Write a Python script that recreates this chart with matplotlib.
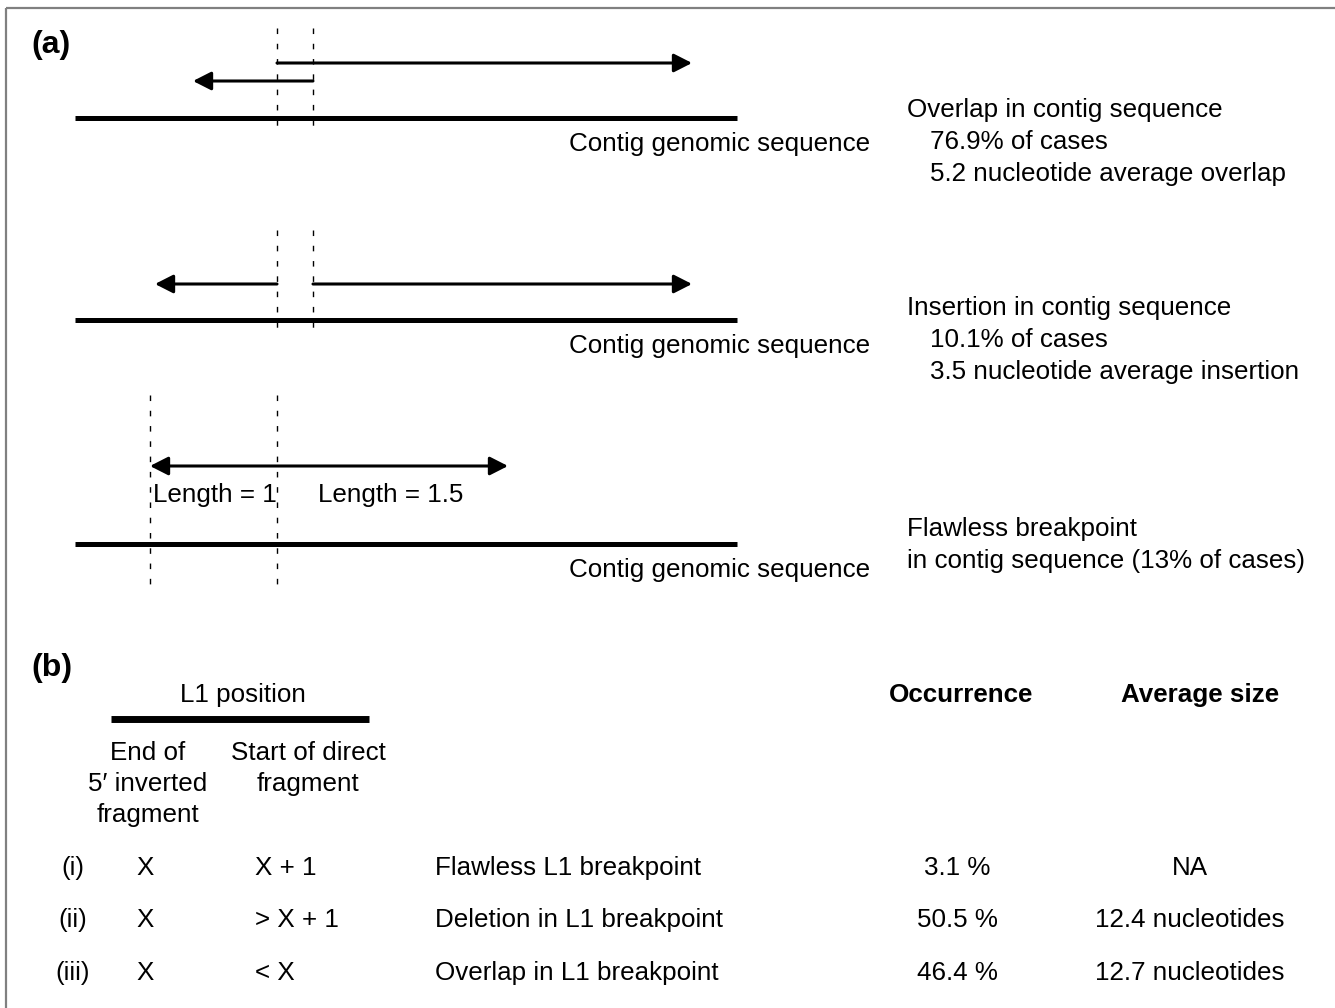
import matplotlib
matplotlib.use("Agg")
import matplotlib.pyplot as plt

plt.rcParams['font.family'] = ['Liberation Sans', 'DejaVu Sans']

# ---- panel (a) texts ----
contig_label = "Contig genomic sequence"
case_titles = ["Overlap in contig sequence",
               "Insertion in contig sequence",
               "Flawless breakpoint"]
case_lines = [["76.9% of cases", "5.2 nucleotide average overlap"],
              ["10.1% of cases", "3.5 nucleotide average insertion"],
              ["in contig sequence (13% of cases)"]]
length_labels = ["Length = 1", "Length = 1.5"]

# ---- panel (b) table ----
inv_header = ["End of", "5\u2032 inverted", "fragment"]
dir_header = ["Start of direct", "fragment"]
row_ids = ["(i)", "(ii)", "(iii)"]
inv_end = ["X", "X", "X"]
dir_start = ["X + 1", "> X + 1", "< X"]
descriptions = ["Flawless L1 breakpoint", "Deletion in L1 breakpoint", "Overlap in L1 breakpoint"]
occurrence = ["3.1 %", "50.5 %", "46.4 %"]
avg_size = ["NA", "12.4 nucleotides", "12.7 nucleotides"]

W, H = 1335, 1008
fig = plt.figure(figsize=(W / 100, H / 100), dpi=100)
ax = fig.add_axes([0, 0, 1, 1])
ax.set_xlim(0, W)
ax.set_ylim(H, 0)
ax.axis('off')

FS = 18.7
DY = 2  # small vertical nudge for text

# frame (top + left only)
ax.plot([6, W], [7.5, 7.5], color='#808080', lw=1.6, solid_capstyle='butt')
ax.plot([6, 6], [7.5, H], color='#808080', lw=1.6, solid_capstyle='butt')


def txt(x, y, s, **kw):
    kw.setdefault('va', 'center')
    kw.setdefault('fontsize', FS)
    ax.text(x, y + DY, s, **kw)


def arrow(x0, x1, y, both=False):
    style = '<|-|>' if both else '-|>'
    ax.annotate('', xy=(x1, y), xytext=(x0, y),
                arrowprops=dict(arrowstyle=style + ',head_length=0.55,head_width=0.28',
                                lw=2.2, color='black', mutation_scale=20,
                                shrinkA=0, shrinkB=0))


def dashed(x, y0, y1):
    ax.plot([x, x], [y0, y1], color='black', lw=1.0, dashes=(4, 7))


def contig(y):
    ax.plot([75, 737], [y, y], color='black', lw=3.6, solid_capstyle='butt')
    txt(569, y + 24, contig_label)


txt(31, 43, "(a)", fontsize=23, fontweight='bold')

# row 1: overlap
dashed(277, 28, 128)
dashed(313, 28, 128)
arrow(277, 692, 63)
arrow(313, 193, 81)
contig(118)

# row 2: insertion
dashed(277, 230, 330)
dashed(313, 230, 330)
arrow(277, 155, 284)
arrow(313, 692, 284)
contig(320)

# row 3: flawless
dashed(150, 395, 590)
dashed(277, 395, 590)
arrow(150, 508, 466, both=True)
txt(153, 493, length_labels[0])
txt(318, 493, length_labels[1])
contig(544)

title_y = [108, 306, 527]
for i, t in enumerate(case_titles):
    txt(907, title_y[i], t)
    for j, s in enumerate(case_lines[i]):
        xs = 930 if i < 2 else 907
        txt(xs, title_y[i] + 32 * (j + 1), s)

# ---- panel (b) ----
txt(31, 666, "(b)", fontsize=23, fontweight='bold')
txt(243, 693, "L1 position", ha='center')
ax.plot([111, 369], [719, 719], color='black', lw=5, solid_capstyle='butt')
for k, s in enumerate(inv_header):
    txt(148, 751 + 31 * k, s, ha='center')
for k, s in enumerate(dir_header):
    txt(308, 751 + 31 * k, s, ha='center')
txt(961, 693, "Occurrence", fontweight='bold', ha='center')
txt(1200, 693, "Average size", fontweight='bold', ha='center')

row_y = [866, 918, 971]
for i in range(len(row_ids)):
    y = row_y[i]
    txt(73, y, row_ids[i], ha='center')
    txt(145, y, inv_end[i], ha='center')
    txt(255, y, dir_start[i], ha='left')
    txt(435, y, descriptions[i], ha='left')
    txt(957, y, occurrence[i], ha='center')
    txt(1190, y, avg_size[i], ha='center')

fig.savefig("out.png", dpi=100)
